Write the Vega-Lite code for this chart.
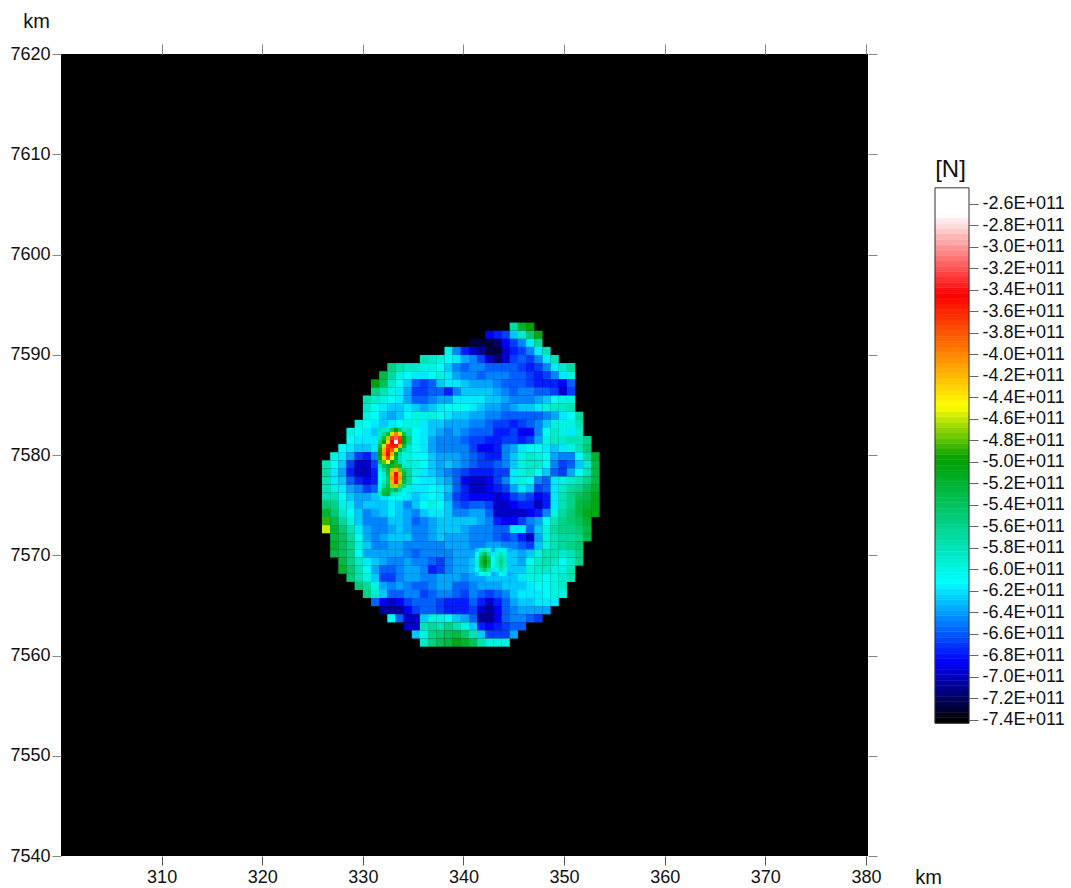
{"$schema":"https://vega.github.io/schema/vega-lite/v6.json","background":"white","padding":{"left":9,"top":11,"right":0,"bottom":0},"bounds":"flush","spacing":67,"config":{"font":"Liberation Sans","view":{"stroke":null}},
"datasets":{"cells":[
{"x":345.00,"y":7592.80,"v":-5.7},{"x":345.81,"y":7592.80,"v":-5.2},{"x":346.63,"y":7592.80,"v":-5.0},
{"x":342.57,"y":7591.99,"v":-6.9},{"x":343.38,"y":7591.99,"v":-6.8},{"x":344.19,"y":7591.99,"v":-6.7},{"x":345.00,"y":7591.99,"v":-6.3},{"x":345.81,"y":7591.99,"v":-5.9},{"x":346.63,"y":7591.99,"v":-5.5},{"x":347.44,"y":7591.99,"v":-5.1},
{"x":340.95,"y":7591.18,"v":-7.3},{"x":341.76,"y":7591.18,"v":-7.3},{"x":342.57,"y":7591.18,"v":-7.3},{"x":343.38,"y":7591.18,"v":-7.2},{"x":344.19,"y":7591.18,"v":-6.9},{"x":345.00,"y":7591.18,"v":-6.7},{"x":345.81,"y":7591.18,"v":-6.5},{"x":346.63,"y":7591.18,"v":-6.2},{"x":347.44,"y":7591.18,"v":-5.7},
{"x":338.52,"y":7590.38,"v":-6.0},{"x":339.33,"y":7590.38,"v":-6.5},{"x":340.14,"y":7590.38,"v":-6.8},{"x":340.95,"y":7590.38,"v":-7.0},{"x":341.76,"y":7590.38,"v":-7.1},{"x":342.57,"y":7590.38,"v":-7.3},{"x":343.38,"y":7590.38,"v":-7.3},{"x":344.19,"y":7590.38,"v":-7.0},{"x":345.00,"y":7590.38,"v":-6.8},{"x":345.81,"y":7590.38,"v":-6.7},{"x":346.63,"y":7590.38,"v":-6.5},{"x":347.44,"y":7590.38,"v":-6.2},{"x":348.25,"y":7590.38,"v":-5.8},
{"x":336.08,"y":7589.57,"v":-5.8},{"x":336.89,"y":7589.57,"v":-5.9},{"x":337.70,"y":7589.57,"v":-6.0},{"x":338.52,"y":7589.57,"v":-6.1},{"x":339.33,"y":7589.57,"v":-6.2},{"x":340.14,"y":7589.57,"v":-6.4},{"x":340.95,"y":7589.57,"v":-6.5},{"x":341.76,"y":7589.57,"v":-6.7},{"x":342.57,"y":7589.57,"v":-7.0},{"x":343.38,"y":7589.57,"v":-7.2},{"x":344.19,"y":7589.57,"v":-7.0},{"x":345.00,"y":7589.57,"v":-6.7},{"x":345.81,"y":7589.57,"v":-6.6},{"x":346.63,"y":7589.57,"v":-6.7},{"x":347.44,"y":7589.57,"v":-6.5},{"x":348.25,"y":7589.57,"v":-6.2},{"x":349.06,"y":7589.57,"v":-5.8},
{"x":332.84,"y":7588.76,"v":-5.6},{"x":333.65,"y":7588.76,"v":-5.8},{"x":334.46,"y":7588.76,"v":-5.9},{"x":335.27,"y":7588.76,"v":-5.9},{"x":336.08,"y":7588.76,"v":-6.0},{"x":336.89,"y":7588.76,"v":-6.0},{"x":337.70,"y":7588.76,"v":-6.1},{"x":338.52,"y":7588.76,"v":-6.3},{"x":339.33,"y":7588.76,"v":-6.5},{"x":340.14,"y":7588.76,"v":-6.6},{"x":340.95,"y":7588.76,"v":-6.5},{"x":341.76,"y":7588.76,"v":-6.5},{"x":342.57,"y":7588.76,"v":-6.6},{"x":343.38,"y":7588.76,"v":-6.6},{"x":344.19,"y":7588.76,"v":-6.6},{"x":345.00,"y":7588.76,"v":-6.6},{"x":345.81,"y":7588.76,"v":-6.7},{"x":346.63,"y":7588.76,"v":-6.8},{"x":347.44,"y":7588.76,"v":-6.7},{"x":348.25,"y":7588.76,"v":-6.5},{"x":349.06,"y":7588.76,"v":-6.2},{"x":349.87,"y":7588.76,"v":-5.9},{"x":350.68,"y":7588.76,"v":-5.7},
{"x":332.03,"y":7587.95,"v":-5.3},{"x":332.84,"y":7587.95,"v":-5.7},{"x":333.65,"y":7587.95,"v":-6.0},{"x":334.46,"y":7587.95,"v":-6.1},{"x":335.27,"y":7587.95,"v":-6.2},{"x":336.08,"y":7587.95,"v":-6.2},{"x":336.89,"y":7587.95,"v":-6.1},{"x":337.70,"y":7587.95,"v":-6.0},{"x":338.52,"y":7587.95,"v":-6.2},{"x":339.33,"y":7587.95,"v":-6.4},{"x":340.14,"y":7587.95,"v":-6.5},{"x":340.95,"y":7587.95,"v":-6.5},{"x":341.76,"y":7587.95,"v":-6.6},{"x":342.57,"y":7587.95,"v":-6.5},{"x":343.38,"y":7587.95,"v":-6.5},{"x":344.19,"y":7587.95,"v":-6.5},{"x":345.00,"y":7587.95,"v":-6.6},{"x":345.81,"y":7587.95,"v":-6.6},{"x":346.63,"y":7587.95,"v":-6.7},{"x":347.44,"y":7587.95,"v":-6.8},{"x":348.25,"y":7587.95,"v":-6.7},{"x":349.06,"y":7587.95,"v":-6.5},{"x":349.87,"y":7587.95,"v":-6.2},{"x":350.68,"y":7587.95,"v":-6.0},
{"x":331.22,"y":7587.14,"v":-5.0},{"x":332.03,"y":7587.14,"v":-5.4},{"x":332.84,"y":7587.14,"v":-5.9},{"x":333.65,"y":7587.14,"v":-6.1},{"x":334.46,"y":7587.14,"v":-6.3},{"x":335.27,"y":7587.14,"v":-6.6},{"x":336.08,"y":7587.14,"v":-6.7},{"x":336.89,"y":7587.14,"v":-6.6},{"x":337.70,"y":7587.14,"v":-6.3},{"x":338.52,"y":7587.14,"v":-6.2},{"x":339.33,"y":7587.14,"v":-6.2},{"x":340.14,"y":7587.14,"v":-6.3},{"x":340.95,"y":7587.14,"v":-6.4},{"x":341.76,"y":7587.14,"v":-6.4},{"x":342.57,"y":7587.14,"v":-6.4},{"x":343.38,"y":7587.14,"v":-6.5},{"x":344.19,"y":7587.14,"v":-6.6},{"x":345.00,"y":7587.14,"v":-6.6},{"x":345.81,"y":7587.14,"v":-6.6},{"x":346.63,"y":7587.14,"v":-6.7},{"x":347.44,"y":7587.14,"v":-6.8},{"x":348.25,"y":7587.14,"v":-6.8},{"x":349.06,"y":7587.14,"v":-6.8},{"x":349.87,"y":7587.14,"v":-6.9},{"x":350.68,"y":7587.14,"v":-6.6},
{"x":331.22,"y":7586.34,"v":-5.6},{"x":332.03,"y":7586.34,"v":-5.8},{"x":332.84,"y":7586.34,"v":-6.0},{"x":333.65,"y":7586.34,"v":-6.2},{"x":334.46,"y":7586.34,"v":-6.4},{"x":335.27,"y":7586.34,"v":-6.7},{"x":336.08,"y":7586.34,"v":-6.7},{"x":336.89,"y":7586.34,"v":-6.6},{"x":337.70,"y":7586.34,"v":-6.6},{"x":338.52,"y":7586.34,"v":-6.8},{"x":339.33,"y":7586.34,"v":-6.5},{"x":340.14,"y":7586.34,"v":-6.3},{"x":340.95,"y":7586.34,"v":-6.3},{"x":341.76,"y":7586.34,"v":-6.3},{"x":342.57,"y":7586.34,"v":-6.3},{"x":343.38,"y":7586.34,"v":-6.4},{"x":344.19,"y":7586.34,"v":-6.5},{"x":345.00,"y":7586.34,"v":-6.6},{"x":345.81,"y":7586.34,"v":-6.5},{"x":346.63,"y":7586.34,"v":-6.5},{"x":347.44,"y":7586.34,"v":-6.6},{"x":348.25,"y":7586.34,"v":-6.6},{"x":349.06,"y":7586.34,"v":-6.7},{"x":349.87,"y":7586.34,"v":-7.0},{"x":350.68,"y":7586.34,"v":-6.7},
{"x":330.41,"y":7585.53,"v":-5.8},{"x":331.22,"y":7585.53,"v":-5.9},{"x":332.03,"y":7585.53,"v":-6.0},{"x":332.84,"y":7585.53,"v":-6.1},{"x":333.65,"y":7585.53,"v":-6.2},{"x":334.46,"y":7585.53,"v":-6.4},{"x":335.27,"y":7585.53,"v":-6.6},{"x":336.08,"y":7585.53,"v":-6.6},{"x":336.89,"y":7585.53,"v":-6.5},{"x":337.70,"y":7585.53,"v":-6.4},{"x":338.52,"y":7585.53,"v":-6.4},{"x":339.33,"y":7585.53,"v":-6.2},{"x":340.14,"y":7585.53,"v":-6.2},{"x":340.95,"y":7585.53,"v":-6.2},{"x":341.76,"y":7585.53,"v":-6.2},{"x":342.57,"y":7585.53,"v":-6.3},{"x":343.38,"y":7585.53,"v":-6.3},{"x":344.19,"y":7585.53,"v":-6.4},{"x":345.00,"y":7585.53,"v":-6.5},{"x":345.81,"y":7585.53,"v":-6.5},{"x":346.63,"y":7585.53,"v":-6.5},{"x":347.44,"y":7585.53,"v":-6.4},{"x":348.25,"y":7585.53,"v":-6.3},{"x":349.06,"y":7585.53,"v":-6.1},{"x":349.87,"y":7585.53,"v":-6.0},{"x":350.68,"y":7585.53,"v":-6.0},
{"x":330.41,"y":7584.72,"v":-5.9},{"x":331.22,"y":7584.72,"v":-6.1},{"x":332.03,"y":7584.72,"v":-6.2},{"x":332.84,"y":7584.72,"v":-6.3},{"x":333.65,"y":7584.72,"v":-6.3},{"x":334.46,"y":7584.72,"v":-6.2},{"x":335.27,"y":7584.72,"v":-6.3},{"x":336.08,"y":7584.72,"v":-6.4},{"x":336.89,"y":7584.72,"v":-6.3},{"x":337.70,"y":7584.72,"v":-6.2},{"x":338.52,"y":7584.72,"v":-6.1},{"x":339.33,"y":7584.72,"v":-6.1},{"x":340.14,"y":7584.72,"v":-6.1},{"x":340.95,"y":7584.72,"v":-6.2},{"x":341.76,"y":7584.72,"v":-6.3},{"x":342.57,"y":7584.72,"v":-6.4},{"x":343.38,"y":7584.72,"v":-6.4},{"x":344.19,"y":7584.72,"v":-6.5},{"x":345.00,"y":7584.72,"v":-6.4},{"x":345.81,"y":7584.72,"v":-6.3},{"x":346.63,"y":7584.72,"v":-6.3},{"x":347.44,"y":7584.72,"v":-6.2},{"x":348.25,"y":7584.72,"v":-6.0},{"x":349.06,"y":7584.72,"v":-5.9},{"x":349.87,"y":7584.72,"v":-5.9},{"x":350.68,"y":7584.72,"v":-5.8},
{"x":330.41,"y":7583.91,"v":-6.0},{"x":331.22,"y":7583.91,"v":-6.1},{"x":332.03,"y":7583.91,"v":-6.3},{"x":332.84,"y":7583.91,"v":-6.4},{"x":333.65,"y":7583.91,"v":-6.3},{"x":334.46,"y":7583.91,"v":-6.1},{"x":335.27,"y":7583.91,"v":-6.0},{"x":336.08,"y":7583.91,"v":-6.0},{"x":336.89,"y":7583.91,"v":-6.0},{"x":337.70,"y":7583.91,"v":-6.1},{"x":338.52,"y":7583.91,"v":-6.2},{"x":339.33,"y":7583.91,"v":-6.3},{"x":340.14,"y":7583.91,"v":-6.3},{"x":340.95,"y":7583.91,"v":-6.4},{"x":341.76,"y":7583.91,"v":-6.4},{"x":342.57,"y":7583.91,"v":-6.5},{"x":343.38,"y":7583.91,"v":-6.5},{"x":344.19,"y":7583.91,"v":-6.6},{"x":345.00,"y":7583.91,"v":-6.6},{"x":345.81,"y":7583.91,"v":-6.6},{"x":346.63,"y":7583.91,"v":-6.6},{"x":347.44,"y":7583.91,"v":-6.6},{"x":348.25,"y":7583.91,"v":-6.5},{"x":349.06,"y":7583.91,"v":-6.4},{"x":349.87,"y":7583.91,"v":-6.2},{"x":350.68,"y":7583.91,"v":-6.1},{"x":351.49,"y":7583.91,"v":-5.7},
{"x":329.59,"y":7583.10,"v":-6.0},{"x":330.41,"y":7583.10,"v":-6.1},{"x":331.22,"y":7583.10,"v":-6.2},{"x":332.03,"y":7583.10,"v":-6.3},{"x":332.84,"y":7583.10,"v":-6.2},{"x":333.65,"y":7583.10,"v":-6.1},{"x":334.46,"y":7583.10,"v":-6.0},{"x":335.27,"y":7583.10,"v":-6.0},{"x":336.08,"y":7583.10,"v":-6.2},{"x":336.89,"y":7583.10,"v":-6.3},{"x":337.70,"y":7583.10,"v":-6.3},{"x":338.52,"y":7583.10,"v":-6.4},{"x":339.33,"y":7583.10,"v":-6.4},{"x":340.14,"y":7583.10,"v":-6.4},{"x":340.95,"y":7583.10,"v":-6.5},{"x":341.76,"y":7583.10,"v":-6.5},{"x":342.57,"y":7583.10,"v":-6.6},{"x":343.38,"y":7583.10,"v":-6.7},{"x":344.19,"y":7583.10,"v":-6.7},{"x":345.00,"y":7583.10,"v":-6.8},{"x":345.81,"y":7583.10,"v":-6.7},{"x":346.63,"y":7583.10,"v":-6.6},{"x":347.44,"y":7583.10,"v":-6.5},{"x":348.25,"y":7583.10,"v":-6.3},{"x":349.06,"y":7583.10,"v":-6.0},{"x":349.87,"y":7583.10,"v":-6.0},{"x":350.68,"y":7583.10,"v":-6.0},{"x":351.49,"y":7583.10,"v":-5.8},
{"x":328.78,"y":7582.30,"v":-6.0},{"x":329.59,"y":7582.30,"v":-6.1},{"x":330.41,"y":7582.30,"v":-6.2},{"x":331.22,"y":7582.30,"v":-6.3},{"x":332.03,"y":7582.30,"v":-6.1},{"x":332.84,"y":7582.30,"v":-5.9},{"x":333.65,"y":7582.30,"v":-5.6},{"x":334.46,"y":7582.30,"v":-5.8},{"x":335.27,"y":7582.30,"v":-6.1},{"x":336.08,"y":7582.30,"v":-6.2},{"x":336.89,"y":7582.30,"v":-6.3},{"x":337.70,"y":7582.30,"v":-6.4},{"x":338.52,"y":7582.30,"v":-6.5},{"x":339.33,"y":7582.30,"v":-6.4},{"x":340.14,"y":7582.30,"v":-6.5},{"x":340.95,"y":7582.30,"v":-6.6},{"x":341.76,"y":7582.30,"v":-6.6},{"x":342.57,"y":7582.30,"v":-6.6},{"x":343.38,"y":7582.30,"v":-6.8},{"x":344.19,"y":7582.30,"v":-6.8},{"x":345.00,"y":7582.30,"v":-6.7},{"x":345.81,"y":7582.30,"v":-6.9},{"x":346.63,"y":7582.30,"v":-6.9},{"x":347.44,"y":7582.30,"v":-6.5},{"x":348.25,"y":7582.30,"v":-6.1},{"x":349.06,"y":7582.30,"v":-5.9},{"x":349.87,"y":7582.30,"v":-6.0},{"x":350.68,"y":7582.30,"v":-6.2},{"x":351.49,"y":7582.30,"v":-5.9},
{"x":328.78,"y":7581.49,"v":-6.1},{"x":329.59,"y":7581.49,"v":-6.2},{"x":330.41,"y":7581.49,"v":-6.2},{"x":331.22,"y":7581.49,"v":-6.2},{"x":332.03,"y":7581.49,"v":-5.9},{"x":332.84,"y":7581.49,"v":-5.6},{"x":333.65,"y":7581.49,"v":-5.6},{"x":334.46,"y":7581.49,"v":-5.6},{"x":335.27,"y":7581.49,"v":-6.1},{"x":336.08,"y":7581.49,"v":-6.2},{"x":336.89,"y":7581.49,"v":-6.4},{"x":337.70,"y":7581.49,"v":-6.5},{"x":338.52,"y":7581.49,"v":-6.5},{"x":339.33,"y":7581.49,"v":-6.5},{"x":340.14,"y":7581.49,"v":-6.6},{"x":340.95,"y":7581.49,"v":-6.7},{"x":341.76,"y":7581.49,"v":-6.7},{"x":342.57,"y":7581.49,"v":-6.8},{"x":343.38,"y":7581.49,"v":-6.8},{"x":344.19,"y":7581.49,"v":-6.7},{"x":345.00,"y":7581.49,"v":-6.7},{"x":345.81,"y":7581.49,"v":-6.8},{"x":346.63,"y":7581.49,"v":-6.7},{"x":347.44,"y":7581.49,"v":-6.4},{"x":348.25,"y":7581.49,"v":-6.0},{"x":349.06,"y":7581.49,"v":-5.9},{"x":349.87,"y":7581.49,"v":-5.9},{"x":350.68,"y":7581.49,"v":-5.8},{"x":351.49,"y":7581.49,"v":-5.8},{"x":352.30,"y":7581.49,"v":-5.6},
{"x":327.97,"y":7580.68,"v":-6.1},{"x":328.78,"y":7580.68,"v":-6.2},{"x":329.59,"y":7580.68,"v":-6.3},{"x":330.41,"y":7580.68,"v":-6.3},{"x":331.22,"y":7580.68,"v":-6.2},{"x":332.03,"y":7580.68,"v":-5.6},{"x":332.84,"y":7580.68,"v":-5.6},{"x":333.65,"y":7580.68,"v":-5.6},{"x":334.46,"y":7580.68,"v":-5.9},{"x":335.27,"y":7580.68,"v":-6.1},{"x":336.08,"y":7580.68,"v":-6.2},{"x":336.89,"y":7580.68,"v":-6.4},{"x":337.70,"y":7580.68,"v":-6.5},{"x":338.52,"y":7580.68,"v":-6.5},{"x":339.33,"y":7580.68,"v":-6.5},{"x":340.14,"y":7580.68,"v":-6.5},{"x":340.95,"y":7580.68,"v":-6.7},{"x":341.76,"y":7580.68,"v":-6.9},{"x":342.57,"y":7580.68,"v":-6.9},{"x":343.38,"y":7580.68,"v":-6.8},{"x":344.19,"y":7580.68,"v":-6.5},{"x":345.00,"y":7580.68,"v":-6.4},{"x":345.81,"y":7580.68,"v":-6.2},{"x":346.63,"y":7580.68,"v":-6.1},{"x":347.44,"y":7580.68,"v":-6.1},{"x":348.25,"y":7580.68,"v":-6.2},{"x":349.06,"y":7580.68,"v":-6.3},{"x":349.87,"y":7580.68,"v":-6.2},{"x":350.68,"y":7580.68,"v":-6.0},{"x":351.49,"y":7580.68,"v":-5.8},{"x":352.30,"y":7580.68,"v":-5.5},
{"x":327.16,"y":7579.87,"v":-6.0},{"x":327.97,"y":7579.87,"v":-6.2},{"x":328.78,"y":7579.87,"v":-6.4},{"x":329.59,"y":7579.87,"v":-6.7},{"x":330.41,"y":7579.87,"v":-6.8},{"x":331.22,"y":7579.87,"v":-6.5},{"x":332.03,"y":7579.87,"v":-5.6},{"x":332.84,"y":7579.87,"v":-5.4},{"x":333.65,"y":7579.87,"v":-5.7},{"x":334.46,"y":7579.87,"v":-6.0},{"x":335.27,"y":7579.87,"v":-6.1},{"x":336.08,"y":7579.87,"v":-6.1},{"x":336.89,"y":7579.87,"v":-6.3},{"x":337.70,"y":7579.87,"v":-6.4},{"x":338.52,"y":7579.87,"v":-6.4},{"x":339.33,"y":7579.87,"v":-6.4},{"x":340.14,"y":7579.87,"v":-6.5},{"x":340.95,"y":7579.87,"v":-6.6},{"x":341.76,"y":7579.87,"v":-6.7},{"x":342.57,"y":7579.87,"v":-6.8},{"x":343.38,"y":7579.87,"v":-6.8},{"x":344.19,"y":7579.87,"v":-6.5},{"x":345.00,"y":7579.87,"v":-6.3},{"x":345.81,"y":7579.87,"v":-6.0},{"x":346.63,"y":7579.87,"v":-5.9},{"x":347.44,"y":7579.87,"v":-6.0},{"x":348.25,"y":7579.87,"v":-6.1},{"x":349.06,"y":7579.87,"v":-6.4},{"x":349.87,"y":7579.87,"v":-6.5},{"x":350.68,"y":7579.87,"v":-6.5},{"x":351.49,"y":7579.87,"v":-6.1},{"x":352.30,"y":7579.87,"v":-5.7},{"x":353.11,"y":7579.87,"v":-5.2},
{"x":326.35,"y":7579.06,"v":-5.8},{"x":327.16,"y":7579.06,"v":-6.1},{"x":327.97,"y":7579.06,"v":-6.3},{"x":328.78,"y":7579.06,"v":-6.7},{"x":329.59,"y":7579.06,"v":-7.0},{"x":330.41,"y":7579.06,"v":-7.0},{"x":331.22,"y":7579.06,"v":-6.7},{"x":332.03,"y":7579.06,"v":-5.9},{"x":332.84,"y":7579.06,"v":-5.6},{"x":333.65,"y":7579.06,"v":-5.6},{"x":334.46,"y":7579.06,"v":-5.9},{"x":335.27,"y":7579.06,"v":-6.0},{"x":336.08,"y":7579.06,"v":-6.1},{"x":336.89,"y":7579.06,"v":-6.3},{"x":337.70,"y":7579.06,"v":-6.4},{"x":338.52,"y":7579.06,"v":-6.3},{"x":339.33,"y":7579.06,"v":-6.4},{"x":340.14,"y":7579.06,"v":-6.5},{"x":340.95,"y":7579.06,"v":-6.6},{"x":341.76,"y":7579.06,"v":-6.7},{"x":342.57,"y":7579.06,"v":-6.7},{"x":343.38,"y":7579.06,"v":-6.6},{"x":344.19,"y":7579.06,"v":-6.5},{"x":345.00,"y":7579.06,"v":-6.3},{"x":345.81,"y":7579.06,"v":-6.0},{"x":346.63,"y":7579.06,"v":-5.9},{"x":347.44,"y":7579.06,"v":-5.9},{"x":348.25,"y":7579.06,"v":-6.1},{"x":349.06,"y":7579.06,"v":-6.5},{"x":349.87,"y":7579.06,"v":-6.7},{"x":350.68,"y":7579.06,"v":-6.6},{"x":351.49,"y":7579.06,"v":-6.3},{"x":352.30,"y":7579.06,"v":-5.9},{"x":353.11,"y":7579.06,"v":-5.3},
{"x":326.35,"y":7578.26,"v":-5.7},{"x":327.16,"y":7578.26,"v":-6.2},{"x":327.97,"y":7578.26,"v":-6.4},{"x":328.78,"y":7578.26,"v":-6.8},{"x":329.59,"y":7578.26,"v":-7.0},{"x":330.41,"y":7578.26,"v":-7.0},{"x":331.22,"y":7578.26,"v":-6.8},{"x":332.03,"y":7578.26,"v":-6.2},{"x":332.84,"y":7578.26,"v":-6.0},{"x":333.65,"y":7578.26,"v":-5.6},{"x":334.46,"y":7578.26,"v":-5.7},{"x":335.27,"y":7578.26,"v":-6.0},{"x":336.08,"y":7578.26,"v":-6.2},{"x":336.89,"y":7578.26,"v":-6.3},{"x":337.70,"y":7578.26,"v":-6.4},{"x":338.52,"y":7578.26,"v":-6.5},{"x":339.33,"y":7578.26,"v":-6.6},{"x":340.14,"y":7578.26,"v":-6.7},{"x":340.95,"y":7578.26,"v":-6.8},{"x":341.76,"y":7578.26,"v":-6.8},{"x":342.57,"y":7578.26,"v":-6.8},{"x":343.38,"y":7578.26,"v":-6.7},{"x":344.19,"y":7578.26,"v":-6.7},{"x":345.00,"y":7578.26,"v":-6.2},{"x":345.81,"y":7578.26,"v":-6.0},{"x":346.63,"y":7578.26,"v":-5.9},{"x":347.44,"y":7578.26,"v":-6.1},{"x":348.25,"y":7578.26,"v":-6.3},{"x":349.06,"y":7578.26,"v":-6.6},{"x":349.87,"y":7578.26,"v":-6.7},{"x":350.68,"y":7578.26,"v":-6.4},{"x":351.49,"y":7578.26,"v":-6.1},{"x":352.30,"y":7578.26,"v":-5.8},{"x":353.11,"y":7578.26,"v":-5.3},
{"x":326.35,"y":7577.45,"v":-5.8},{"x":327.16,"y":7577.45,"v":-6.2},{"x":327.97,"y":7577.45,"v":-6.3},{"x":328.78,"y":7577.45,"v":-6.6},{"x":329.59,"y":7577.45,"v":-6.8},{"x":330.41,"y":7577.45,"v":-6.9},{"x":331.22,"y":7577.45,"v":-6.8},{"x":332.03,"y":7577.45,"v":-6.2},{"x":332.84,"y":7577.45,"v":-5.5},{"x":333.65,"y":7577.45,"v":-5.6},{"x":334.46,"y":7577.45,"v":-5.7},{"x":335.27,"y":7577.45,"v":-6.1},{"x":336.08,"y":7577.45,"v":-6.2},{"x":336.89,"y":7577.45,"v":-6.2},{"x":337.70,"y":7577.45,"v":-6.3},{"x":338.52,"y":7577.45,"v":-6.4},{"x":339.33,"y":7577.45,"v":-6.6},{"x":340.14,"y":7577.45,"v":-6.9},{"x":340.95,"y":7577.45,"v":-7.0},{"x":341.76,"y":7577.45,"v":-7.0},{"x":342.57,"y":7577.45,"v":-6.9},{"x":343.38,"y":7577.45,"v":-6.7},{"x":344.19,"y":7577.45,"v":-6.5},{"x":345.00,"y":7577.45,"v":-6.2},{"x":345.81,"y":7577.45,"v":-6.0},{"x":346.63,"y":7577.45,"v":-6.1},{"x":347.44,"y":7577.45,"v":-6.5},{"x":348.25,"y":7577.45,"v":-6.6},{"x":349.06,"y":7577.45,"v":-6.2},{"x":349.87,"y":7577.45,"v":-6.0},{"x":350.68,"y":7577.45,"v":-5.9},{"x":351.49,"y":7577.45,"v":-5.8},{"x":352.30,"y":7577.45,"v":-5.6},{"x":353.11,"y":7577.45,"v":-5.3},
{"x":326.35,"y":7576.64,"v":-5.8},{"x":327.16,"y":7576.64,"v":-6.0},{"x":327.97,"y":7576.64,"v":-6.2},{"x":328.78,"y":7576.64,"v":-6.4},{"x":329.59,"y":7576.64,"v":-6.5},{"x":330.41,"y":7576.64,"v":-6.7},{"x":331.22,"y":7576.64,"v":-6.6},{"x":332.03,"y":7576.64,"v":-6.2},{"x":332.84,"y":7576.64,"v":-5.7},{"x":333.65,"y":7576.64,"v":-5.6},{"x":334.46,"y":7576.64,"v":-6.0},{"x":335.27,"y":7576.64,"v":-6.2},{"x":336.08,"y":7576.64,"v":-6.2},{"x":336.89,"y":7576.64,"v":-6.1},{"x":337.70,"y":7576.64,"v":-6.2},{"x":338.52,"y":7576.64,"v":-6.3},{"x":339.33,"y":7576.64,"v":-6.6},{"x":340.14,"y":7576.64,"v":-6.8},{"x":340.95,"y":7576.64,"v":-7.0},{"x":341.76,"y":7576.64,"v":-7.0},{"x":342.57,"y":7576.64,"v":-6.9},{"x":343.38,"y":7576.64,"v":-6.8},{"x":344.19,"y":7576.64,"v":-6.7},{"x":345.00,"y":7576.64,"v":-6.4},{"x":345.81,"y":7576.64,"v":-6.2},{"x":346.63,"y":7576.64,"v":-6.3},{"x":347.44,"y":7576.64,"v":-6.7},{"x":348.25,"y":7576.64,"v":-6.6},{"x":349.06,"y":7576.64,"v":-6.2},{"x":349.87,"y":7576.64,"v":-5.9},{"x":350.68,"y":7576.64,"v":-5.7},{"x":351.49,"y":7576.64,"v":-5.6},{"x":352.30,"y":7576.64,"v":-5.4},{"x":353.11,"y":7576.64,"v":-5.2},
{"x":326.35,"y":7575.83,"v":-5.8},{"x":327.16,"y":7575.83,"v":-5.8},{"x":327.97,"y":7575.83,"v":-6.1},{"x":328.78,"y":7575.83,"v":-6.3},{"x":329.59,"y":7575.83,"v":-6.4},{"x":330.41,"y":7575.83,"v":-6.4},{"x":331.22,"y":7575.83,"v":-6.3},{"x":332.03,"y":7575.83,"v":-6.2},{"x":332.84,"y":7575.83,"v":-6.1},{"x":333.65,"y":7575.83,"v":-6.1},{"x":334.46,"y":7575.83,"v":-6.2},{"x":335.27,"y":7575.83,"v":-6.3},{"x":336.08,"y":7575.83,"v":-6.2},{"x":336.89,"y":7575.83,"v":-6.1},{"x":337.70,"y":7575.83,"v":-6.2},{"x":338.52,"y":7575.83,"v":-6.4},{"x":339.33,"y":7575.83,"v":-6.7},{"x":340.14,"y":7575.83,"v":-6.8},{"x":340.95,"y":7575.83,"v":-6.9},{"x":341.76,"y":7575.83,"v":-6.9},{"x":342.57,"y":7575.83,"v":-6.9},{"x":343.38,"y":7575.83,"v":-7.0},{"x":344.19,"y":7575.83,"v":-6.9},{"x":345.00,"y":7575.83,"v":-6.7},{"x":345.81,"y":7575.83,"v":-6.6},{"x":346.63,"y":7575.83,"v":-6.7},{"x":347.44,"y":7575.83,"v":-6.9},{"x":348.25,"y":7575.83,"v":-6.8},{"x":349.06,"y":7575.83,"v":-6.2},{"x":349.87,"y":7575.83,"v":-5.8},{"x":350.68,"y":7575.83,"v":-5.6},{"x":351.49,"y":7575.83,"v":-5.4},{"x":352.30,"y":7575.83,"v":-5.3},{"x":353.11,"y":7575.83,"v":-5.1},
{"x":326.35,"y":7575.02,"v":-5.5},{"x":327.16,"y":7575.02,"v":-5.6},{"x":327.97,"y":7575.02,"v":-6.0},{"x":328.78,"y":7575.02,"v":-6.2},{"x":329.59,"y":7575.02,"v":-6.4},{"x":330.41,"y":7575.02,"v":-6.3},{"x":331.22,"y":7575.02,"v":-6.3},{"x":332.03,"y":7575.02,"v":-6.3},{"x":332.84,"y":7575.02,"v":-6.2},{"x":333.65,"y":7575.02,"v":-6.3},{"x":334.46,"y":7575.02,"v":-6.5},{"x":335.27,"y":7575.02,"v":-6.3},{"x":336.08,"y":7575.02,"v":-6.1},{"x":336.89,"y":7575.02,"v":-6.0},{"x":337.70,"y":7575.02,"v":-6.1},{"x":338.52,"y":7575.02,"v":-6.3},{"x":339.33,"y":7575.02,"v":-6.6},{"x":340.14,"y":7575.02,"v":-6.7},{"x":340.95,"y":7575.02,"v":-6.6},{"x":341.76,"y":7575.02,"v":-6.6},{"x":342.57,"y":7575.02,"v":-6.7},{"x":343.38,"y":7575.02,"v":-7.0},{"x":344.19,"y":7575.02,"v":-7.0},{"x":345.00,"y":7575.02,"v":-6.9},{"x":345.81,"y":7575.02,"v":-6.8},{"x":346.63,"y":7575.02,"v":-6.8},{"x":347.44,"y":7575.02,"v":-7.0},{"x":348.25,"y":7575.02,"v":-6.8},{"x":349.06,"y":7575.02,"v":-6.2},{"x":349.87,"y":7575.02,"v":-5.8},{"x":350.68,"y":7575.02,"v":-5.6},{"x":351.49,"y":7575.02,"v":-5.3},{"x":352.30,"y":7575.02,"v":-5.2},{"x":353.11,"y":7575.02,"v":-5.1},
{"x":326.35,"y":7574.22,"v":-5.2},{"x":327.16,"y":7574.22,"v":-5.5},{"x":327.97,"y":7574.22,"v":-5.9},{"x":328.78,"y":7574.22,"v":-6.1},{"x":329.59,"y":7574.22,"v":-6.3},{"x":330.41,"y":7574.22,"v":-6.5},{"x":331.22,"y":7574.22,"v":-6.4},{"x":332.03,"y":7574.22,"v":-6.3},{"x":332.84,"y":7574.22,"v":-6.2},{"x":333.65,"y":7574.22,"v":-6.3},{"x":334.46,"y":7574.22,"v":-6.4},{"x":335.27,"y":7574.22,"v":-6.5},{"x":336.08,"y":7574.22,"v":-6.3},{"x":336.89,"y":7574.22,"v":-6.2},{"x":337.70,"y":7574.22,"v":-6.2},{"x":338.52,"y":7574.22,"v":-6.3},{"x":339.33,"y":7574.22,"v":-6.5},{"x":340.14,"y":7574.22,"v":-6.5},{"x":340.95,"y":7574.22,"v":-6.4},{"x":341.76,"y":7574.22,"v":-6.4},{"x":342.57,"y":7574.22,"v":-6.6},{"x":343.38,"y":7574.22,"v":-7.0},{"x":344.19,"y":7574.22,"v":-7.0},{"x":345.00,"y":7574.22,"v":-7.0},{"x":345.81,"y":7574.22,"v":-7.0},{"x":346.63,"y":7574.22,"v":-6.9},{"x":347.44,"y":7574.22,"v":-6.8},{"x":348.25,"y":7574.22,"v":-6.5},{"x":349.06,"y":7574.22,"v":-6.0},{"x":349.87,"y":7574.22,"v":-5.7},{"x":350.68,"y":7574.22,"v":-5.5},{"x":351.49,"y":7574.22,"v":-5.3},{"x":352.30,"y":7574.22,"v":-5.1},{"x":353.11,"y":7574.22,"v":-5.1},
{"x":326.35,"y":7573.41,"v":-4.9},{"x":327.16,"y":7573.41,"v":-5.3},{"x":327.97,"y":7573.41,"v":-5.7},{"x":328.78,"y":7573.41,"v":-6.0},{"x":329.59,"y":7573.41,"v":-6.3},{"x":330.41,"y":7573.41,"v":-6.5},{"x":331.22,"y":7573.41,"v":-6.5},{"x":332.03,"y":7573.41,"v":-6.5},{"x":332.84,"y":7573.41,"v":-6.3},{"x":333.65,"y":7573.41,"v":-6.3},{"x":334.46,"y":7573.41,"v":-6.4},{"x":335.27,"y":7573.41,"v":-6.6},{"x":336.08,"y":7573.41,"v":-6.5},{"x":336.89,"y":7573.41,"v":-6.4},{"x":337.70,"y":7573.41,"v":-6.3},{"x":338.52,"y":7573.41,"v":-6.3},{"x":339.33,"y":7573.41,"v":-6.3},{"x":340.14,"y":7573.41,"v":-6.3},{"x":340.95,"y":7573.41,"v":-6.3},{"x":341.76,"y":7573.41,"v":-6.4},{"x":342.57,"y":7573.41,"v":-6.5},{"x":343.38,"y":7573.41,"v":-6.8},{"x":344.19,"y":7573.41,"v":-6.9},{"x":345.00,"y":7573.41,"v":-6.9},{"x":345.81,"y":7573.41,"v":-6.7},{"x":346.63,"y":7573.41,"v":-6.5},{"x":347.44,"y":7573.41,"v":-6.4},{"x":348.25,"y":7573.41,"v":-6.1},{"x":349.06,"y":7573.41,"v":-5.8},{"x":349.87,"y":7573.41,"v":-5.6},{"x":350.68,"y":7573.41,"v":-5.5},{"x":351.49,"y":7573.41,"v":-5.4},{"x":352.30,"y":7573.41,"v":-5.2},
{"x":326.35,"y":7572.60,"v":-4.6},{"x":327.16,"y":7572.60,"v":-5.2},{"x":327.97,"y":7572.60,"v":-5.5},{"x":328.78,"y":7572.60,"v":-5.8},{"x":329.59,"y":7572.60,"v":-6.2},{"x":330.41,"y":7572.60,"v":-6.4},{"x":331.22,"y":7572.60,"v":-6.5},{"x":332.03,"y":7572.60,"v":-6.5},{"x":332.84,"y":7572.60,"v":-6.4},{"x":333.65,"y":7572.60,"v":-6.3},{"x":334.46,"y":7572.60,"v":-6.4},{"x":335.27,"y":7572.60,"v":-6.5},{"x":336.08,"y":7572.60,"v":-6.5},{"x":336.89,"y":7572.60,"v":-6.4},{"x":337.70,"y":7572.60,"v":-6.3},{"x":338.52,"y":7572.60,"v":-6.3},{"x":339.33,"y":7572.60,"v":-6.3},{"x":340.14,"y":7572.60,"v":-6.4},{"x":340.95,"y":7572.60,"v":-6.5},{"x":341.76,"y":7572.60,"v":-6.5},{"x":342.57,"y":7572.60,"v":-6.5},{"x":343.38,"y":7572.60,"v":-6.6},{"x":344.19,"y":7572.60,"v":-6.6},{"x":345.00,"y":7572.60,"v":-6.2},{"x":345.81,"y":7572.60,"v":-6.2},{"x":346.63,"y":7572.60,"v":-6.6},{"x":347.44,"y":7572.60,"v":-6.3},{"x":348.25,"y":7572.60,"v":-6.0},{"x":349.06,"y":7572.60,"v":-5.7},{"x":349.87,"y":7572.60,"v":-5.6},{"x":350.68,"y":7572.60,"v":-5.6},{"x":351.49,"y":7572.60,"v":-5.5},{"x":352.30,"y":7572.60,"v":-5.3},
{"x":327.16,"y":7571.79,"v":-5.3},{"x":327.97,"y":7571.79,"v":-5.4},{"x":328.78,"y":7571.79,"v":-5.7},{"x":329.59,"y":7571.79,"v":-6.1},{"x":330.41,"y":7571.79,"v":-6.4},{"x":331.22,"y":7571.79,"v":-6.5},{"x":332.03,"y":7571.79,"v":-6.4},{"x":332.84,"y":7571.79,"v":-6.3},{"x":333.65,"y":7571.79,"v":-6.3},{"x":334.46,"y":7571.79,"v":-6.3},{"x":335.27,"y":7571.79,"v":-6.5},{"x":336.08,"y":7571.79,"v":-6.5},{"x":336.89,"y":7571.79,"v":-6.4},{"x":337.70,"y":7571.79,"v":-6.3},{"x":338.52,"y":7571.79,"v":-6.4},{"x":339.33,"y":7571.79,"v":-6.4},{"x":340.14,"y":7571.79,"v":-6.4},{"x":340.95,"y":7571.79,"v":-6.5},{"x":341.76,"y":7571.79,"v":-6.5},{"x":342.57,"y":7571.79,"v":-6.5},{"x":343.38,"y":7571.79,"v":-6.6},{"x":344.19,"y":7571.79,"v":-6.7},{"x":345.00,"y":7571.79,"v":-6.6},{"x":345.81,"y":7571.79,"v":-6.8},{"x":346.63,"y":7571.79,"v":-7.0},{"x":347.44,"y":7571.79,"v":-6.4},{"x":348.25,"y":7571.79,"v":-6.0},{"x":349.06,"y":7571.79,"v":-5.8},{"x":349.87,"y":7571.79,"v":-5.7},{"x":350.68,"y":7571.79,"v":-5.7},{"x":351.49,"y":7571.79,"v":-5.6},{"x":352.30,"y":7571.79,"v":-5.3},
{"x":327.16,"y":7570.98,"v":-5.2},{"x":327.97,"y":7570.98,"v":-5.4},{"x":328.78,"y":7570.98,"v":-5.6},{"x":329.59,"y":7570.98,"v":-6.0},{"x":330.41,"y":7570.98,"v":-6.3},{"x":331.22,"y":7570.98,"v":-6.5},{"x":332.03,"y":7570.98,"v":-6.5},{"x":332.84,"y":7570.98,"v":-6.4},{"x":333.65,"y":7570.98,"v":-6.4},{"x":334.46,"y":7570.98,"v":-6.5},{"x":335.27,"y":7570.98,"v":-6.5},{"x":336.08,"y":7570.98,"v":-6.5},{"x":336.89,"y":7570.98,"v":-6.5},{"x":337.70,"y":7570.98,"v":-6.5},{"x":338.52,"y":7570.98,"v":-6.4},{"x":339.33,"y":7570.98,"v":-6.4},{"x":340.14,"y":7570.98,"v":-6.4},{"x":340.95,"y":7570.98,"v":-6.5},{"x":341.76,"y":7570.98,"v":-6.5},{"x":342.57,"y":7570.98,"v":-6.4},{"x":343.38,"y":7570.98,"v":-6.4},{"x":344.19,"y":7570.98,"v":-6.5},{"x":345.00,"y":7570.98,"v":-6.5},{"x":345.81,"y":7570.98,"v":-6.6},{"x":346.63,"y":7570.98,"v":-6.7},{"x":347.44,"y":7570.98,"v":-6.3},{"x":348.25,"y":7570.98,"v":-6.0},{"x":349.06,"y":7570.98,"v":-5.8},{"x":349.87,"y":7570.98,"v":-5.7},{"x":350.68,"y":7570.98,"v":-5.6},{"x":351.49,"y":7570.98,"v":-5.5},
{"x":327.16,"y":7570.18,"v":-5.3},{"x":327.97,"y":7570.18,"v":-5.4},{"x":328.78,"y":7570.18,"v":-5.6},{"x":329.59,"y":7570.18,"v":-6.1},{"x":330.41,"y":7570.18,"v":-6.4},{"x":331.22,"y":7570.18,"v":-6.4},{"x":332.03,"y":7570.18,"v":-6.4},{"x":332.84,"y":7570.18,"v":-6.4},{"x":333.65,"y":7570.18,"v":-6.4},{"x":334.46,"y":7570.18,"v":-6.5},{"x":335.27,"y":7570.18,"v":-6.6},{"x":336.08,"y":7570.18,"v":-6.5},{"x":336.89,"y":7570.18,"v":-6.5},{"x":337.70,"y":7570.18,"v":-6.5},{"x":338.52,"y":7570.18,"v":-6.5},{"x":339.33,"y":7570.18,"v":-6.4},{"x":340.14,"y":7570.18,"v":-6.4},{"x":340.95,"y":7570.18,"v":-6.4},{"x":341.76,"y":7570.18,"v":-6.4},{"x":342.57,"y":7570.18,"v":-6.3},{"x":343.38,"y":7570.18,"v":-6.3},{"x":344.19,"y":7570.18,"v":-6.3},{"x":345.00,"y":7570.18,"v":-6.3},{"x":345.81,"y":7570.18,"v":-6.4},{"x":346.63,"y":7570.18,"v":-6.3},{"x":347.44,"y":7570.18,"v":-6.0},{"x":348.25,"y":7570.18,"v":-5.8},{"x":349.06,"y":7570.18,"v":-5.8},{"x":349.87,"y":7570.18,"v":-5.9},{"x":350.68,"y":7570.18,"v":-5.8},{"x":351.49,"y":7570.18,"v":-5.6},
{"x":327.97,"y":7569.37,"v":-5.3},{"x":328.78,"y":7569.37,"v":-5.6},{"x":329.59,"y":7569.37,"v":-5.9},{"x":330.41,"y":7569.37,"v":-6.2},{"x":331.22,"y":7569.37,"v":-6.3},{"x":332.03,"y":7569.37,"v":-6.4},{"x":332.84,"y":7569.37,"v":-6.5},{"x":333.65,"y":7569.37,"v":-6.5},{"x":334.46,"y":7569.37,"v":-6.4},{"x":335.27,"y":7569.37,"v":-6.5},{"x":336.08,"y":7569.37,"v":-6.5},{"x":336.89,"y":7569.37,"v":-6.6},{"x":337.70,"y":7569.37,"v":-6.7},{"x":338.52,"y":7569.37,"v":-6.5},{"x":339.33,"y":7569.37,"v":-6.4},{"x":340.14,"y":7569.37,"v":-6.4},{"x":340.95,"y":7569.37,"v":-6.3},{"x":341.76,"y":7569.37,"v":-6.2},{"x":342.57,"y":7569.37,"v":-6.2},{"x":343.38,"y":7569.37,"v":-6.2},{"x":344.19,"y":7569.37,"v":-6.2},{"x":345.00,"y":7569.37,"v":-6.3},{"x":345.81,"y":7569.37,"v":-6.4},{"x":346.63,"y":7569.37,"v":-6.1},{"x":347.44,"y":7569.37,"v":-5.9},{"x":348.25,"y":7569.37,"v":-5.8},{"x":349.06,"y":7569.37,"v":-5.9},{"x":349.87,"y":7569.37,"v":-6.1},{"x":350.68,"y":7569.37,"v":-5.9},{"x":351.49,"y":7569.37,"v":-5.6},
{"x":327.97,"y":7568.56,"v":-5.2},{"x":328.78,"y":7568.56,"v":-5.5},{"x":329.59,"y":7568.56,"v":-5.8},{"x":330.41,"y":7568.56,"v":-6.1},{"x":331.22,"y":7568.56,"v":-6.4},{"x":332.03,"y":7568.56,"v":-6.6},{"x":332.84,"y":7568.56,"v":-6.6},{"x":333.65,"y":7568.56,"v":-6.5},{"x":334.46,"y":7568.56,"v":-6.4},{"x":335.27,"y":7568.56,"v":-6.4},{"x":336.08,"y":7568.56,"v":-6.5},{"x":336.89,"y":7568.56,"v":-6.8},{"x":337.70,"y":7568.56,"v":-6.7},{"x":338.52,"y":7568.56,"v":-6.5},{"x":339.33,"y":7568.56,"v":-6.4},{"x":340.14,"y":7568.56,"v":-6.4},{"x":340.95,"y":7568.56,"v":-6.3},{"x":341.76,"y":7568.56,"v":-6.2},{"x":342.57,"y":7568.56,"v":-6.2},{"x":343.38,"y":7568.56,"v":-6.2},{"x":344.19,"y":7568.56,"v":-6.2},{"x":345.00,"y":7568.56,"v":-6.3},{"x":345.81,"y":7568.56,"v":-6.3},{"x":346.63,"y":7568.56,"v":-6.0},{"x":347.44,"y":7568.56,"v":-5.9},{"x":348.25,"y":7568.56,"v":-5.9},{"x":349.06,"y":7568.56,"v":-6.0},{"x":349.87,"y":7568.56,"v":-6.0},{"x":350.68,"y":7568.56,"v":-5.8},
{"x":328.78,"y":7567.75,"v":-5.5},{"x":329.59,"y":7567.75,"v":-5.8},{"x":330.41,"y":7567.75,"v":-6.0},{"x":331.22,"y":7567.75,"v":-6.3},{"x":332.03,"y":7567.75,"v":-6.7},{"x":332.84,"y":7567.75,"v":-6.7},{"x":333.65,"y":7567.75,"v":-6.5},{"x":334.46,"y":7567.75,"v":-6.4},{"x":335.27,"y":7567.75,"v":-6.4},{"x":336.08,"y":7567.75,"v":-6.5},{"x":336.89,"y":7567.75,"v":-6.5},{"x":337.70,"y":7567.75,"v":-6.4},{"x":338.52,"y":7567.75,"v":-6.4},{"x":339.33,"y":7567.75,"v":-6.4},{"x":340.14,"y":7567.75,"v":-6.5},{"x":340.95,"y":7567.75,"v":-6.4},{"x":341.76,"y":7567.75,"v":-6.4},{"x":342.57,"y":7567.75,"v":-6.3},{"x":343.38,"y":7567.75,"v":-6.3},{"x":344.19,"y":7567.75,"v":-6.3},{"x":345.00,"y":7567.75,"v":-6.3},{"x":345.81,"y":7567.75,"v":-6.2},{"x":346.63,"y":7567.75,"v":-6.0},{"x":347.44,"y":7567.75,"v":-6.0},{"x":348.25,"y":7567.75,"v":-6.1},{"x":349.06,"y":7567.75,"v":-6.0},{"x":349.87,"y":7567.75,"v":-5.9},{"x":350.68,"y":7567.75,"v":-5.8},
{"x":329.59,"y":7566.94,"v":-5.5},{"x":330.41,"y":7566.94,"v":-5.7},{"x":331.22,"y":7566.94,"v":-6.0},{"x":332.03,"y":7566.94,"v":-6.4},{"x":332.84,"y":7566.94,"v":-6.5},{"x":333.65,"y":7566.94,"v":-6.4},{"x":334.46,"y":7566.94,"v":-6.5},{"x":335.27,"y":7566.94,"v":-6.6},{"x":336.08,"y":7566.94,"v":-6.6},{"x":336.89,"y":7566.94,"v":-6.5},{"x":337.70,"y":7566.94,"v":-6.4},{"x":338.52,"y":7566.94,"v":-6.4},{"x":339.33,"y":7566.94,"v":-6.6},{"x":340.14,"y":7566.94,"v":-6.6},{"x":340.95,"y":7566.94,"v":-6.5},{"x":341.76,"y":7566.94,"v":-6.4},{"x":342.57,"y":7566.94,"v":-6.4},{"x":343.38,"y":7566.94,"v":-6.4},{"x":344.19,"y":7566.94,"v":-6.3},{"x":345.00,"y":7566.94,"v":-6.3},{"x":345.81,"y":7566.94,"v":-6.3},{"x":346.63,"y":7566.94,"v":-6.2},{"x":347.44,"y":7566.94,"v":-6.1},{"x":348.25,"y":7566.94,"v":-6.1},{"x":349.06,"y":7566.94,"v":-6.0},{"x":349.87,"y":7566.94,"v":-5.9},
{"x":330.41,"y":7566.14,"v":-5.6},{"x":331.22,"y":7566.14,"v":-5.9},{"x":332.03,"y":7566.14,"v":-6.3},{"x":332.84,"y":7566.14,"v":-6.6},{"x":333.65,"y":7566.14,"v":-6.6},{"x":334.46,"y":7566.14,"v":-6.5},{"x":335.27,"y":7566.14,"v":-6.5},{"x":336.08,"y":7566.14,"v":-6.7},{"x":336.89,"y":7566.14,"v":-6.6},{"x":337.70,"y":7566.14,"v":-6.5},{"x":338.52,"y":7566.14,"v":-6.5},{"x":339.33,"y":7566.14,"v":-6.6},{"x":340.14,"y":7566.14,"v":-6.7},{"x":340.95,"y":7566.14,"v":-6.5},{"x":341.76,"y":7566.14,"v":-6.6},{"x":342.57,"y":7566.14,"v":-6.7},{"x":343.38,"y":7566.14,"v":-6.6},{"x":344.19,"y":7566.14,"v":-6.5},{"x":345.00,"y":7566.14,"v":-6.3},{"x":345.81,"y":7566.14,"v":-6.2},{"x":346.63,"y":7566.14,"v":-6.2},{"x":347.44,"y":7566.14,"v":-6.2},{"x":348.25,"y":7566.14,"v":-6.1},{"x":349.06,"y":7566.14,"v":-6.0},{"x":349.87,"y":7566.14,"v":-6.0},
{"x":331.22,"y":7565.33,"v":-6.6},{"x":332.03,"y":7565.33,"v":-6.9},{"x":332.84,"y":7565.33,"v":-7.0},{"x":333.65,"y":7565.33,"v":-6.9},{"x":334.46,"y":7565.33,"v":-6.7},{"x":335.27,"y":7565.33,"v":-6.6},{"x":336.08,"y":7565.33,"v":-6.6},{"x":336.89,"y":7565.33,"v":-6.6},{"x":337.70,"y":7565.33,"v":-6.7},{"x":338.52,"y":7565.33,"v":-6.8},{"x":339.33,"y":7565.33,"v":-6.8},{"x":340.14,"y":7565.33,"v":-6.8},{"x":340.95,"y":7565.33,"v":-6.6},{"x":341.76,"y":7565.33,"v":-6.8},{"x":342.57,"y":7565.33,"v":-7.0},{"x":343.38,"y":7565.33,"v":-6.8},{"x":344.19,"y":7565.33,"v":-6.6},{"x":345.00,"y":7565.33,"v":-6.4},{"x":345.81,"y":7565.33,"v":-6.3},{"x":346.63,"y":7565.33,"v":-6.3},{"x":347.44,"y":7565.33,"v":-6.2},{"x":348.25,"y":7565.33,"v":-6.2},{"x":349.06,"y":7565.33,"v":-6.2},
{"x":332.03,"y":7564.52,"v":-7.1},{"x":332.84,"y":7564.52,"v":-7.1},{"x":333.65,"y":7564.52,"v":-7.1},{"x":334.46,"y":7564.52,"v":-6.9},{"x":335.27,"y":7564.52,"v":-6.7},{"x":336.08,"y":7564.52,"v":-6.6},{"x":336.89,"y":7564.52,"v":-6.6},{"x":337.70,"y":7564.52,"v":-6.7},{"x":338.52,"y":7564.52,"v":-6.8},{"x":339.33,"y":7564.52,"v":-6.8},{"x":340.14,"y":7564.52,"v":-6.8},{"x":340.95,"y":7564.52,"v":-6.7},{"x":341.76,"y":7564.52,"v":-7.0},{"x":342.57,"y":7564.52,"v":-7.1},{"x":343.38,"y":7564.52,"v":-6.9},{"x":344.19,"y":7564.52,"v":-6.6},{"x":345.00,"y":7564.52,"v":-6.5},{"x":345.81,"y":7564.52,"v":-6.4},{"x":346.63,"y":7564.52,"v":-6.4},{"x":347.44,"y":7564.52,"v":-6.4},{"x":348.25,"y":7564.52,"v":-6.4},
{"x":332.84,"y":7563.71,"v":-6.1},{"x":333.65,"y":7563.71,"v":-6.6},{"x":334.46,"y":7563.71,"v":-7.0},{"x":335.27,"y":7563.71,"v":-7.0},{"x":336.08,"y":7563.71,"v":-6.3},{"x":336.89,"y":7563.71,"v":-6.0},{"x":337.70,"y":7563.71,"v":-6.0},{"x":338.52,"y":7563.71,"v":-6.1},{"x":339.33,"y":7563.71,"v":-6.3},{"x":340.14,"y":7563.71,"v":-6.4},{"x":340.95,"y":7563.71,"v":-6.6},{"x":341.76,"y":7563.71,"v":-7.1},{"x":342.57,"y":7563.71,"v":-7.1},{"x":343.38,"y":7563.71,"v":-6.9},{"x":344.19,"y":7563.71,"v":-6.6},{"x":345.00,"y":7563.71,"v":-6.5},{"x":345.81,"y":7563.71,"v":-6.5},{"x":346.63,"y":7563.71,"v":-6.6},{"x":347.44,"y":7563.71,"v":-6.7},
{"x":334.46,"y":7562.90,"v":-7.0},{"x":335.27,"y":7562.90,"v":-7.0},{"x":336.08,"y":7562.90,"v":-5.8},{"x":336.89,"y":7562.90,"v":-5.7},{"x":337.70,"y":7562.90,"v":-5.8},{"x":338.52,"y":7562.90,"v":-5.6},{"x":339.33,"y":7562.90,"v":-5.8},{"x":340.14,"y":7562.90,"v":-6.0},{"x":340.95,"y":7562.90,"v":-6.3},{"x":341.76,"y":7562.90,"v":-6.8},{"x":342.57,"y":7562.90,"v":-6.9},{"x":343.38,"y":7562.90,"v":-6.8},{"x":344.19,"y":7562.90,"v":-6.7},{"x":345.00,"y":7562.90,"v":-6.6},{"x":345.81,"y":7562.90,"v":-6.6},
{"x":335.27,"y":7562.10,"v":-6.3},{"x":336.08,"y":7562.10,"v":-6.0},{"x":336.89,"y":7562.10,"v":-5.6},{"x":337.70,"y":7562.10,"v":-5.5},{"x":338.52,"y":7562.10,"v":-5.4},{"x":339.33,"y":7562.10,"v":-5.3},{"x":340.14,"y":7562.10,"v":-5.5},{"x":340.95,"y":7562.10,"v":-5.8},{"x":341.76,"y":7562.10,"v":-6.3},{"x":342.57,"y":7562.10,"v":-6.7},{"x":343.38,"y":7562.10,"v":-6.7},{"x":344.19,"y":7562.10,"v":-6.7},{"x":345.00,"y":7562.10,"v":-6.4},
{"x":336.08,"y":7561.29,"v":-5.9},{"x":336.89,"y":7561.29,"v":-5.6},{"x":337.70,"y":7561.29,"v":-5.4},{"x":338.52,"y":7561.29,"v":-5.3},{"x":339.33,"y":7561.29,"v":-5.1},{"x":340.14,"y":7561.29,"v":-5.2},{"x":340.95,"y":7561.29,"v":-5.4},{"x":341.76,"y":7561.29,"v":-5.8},{"x":342.57,"y":7561.29,"v":-6.0},{"x":343.38,"y":7561.29,"v":-6.0},{"x":344.19,"y":7561.29,"v":-6.0}
],"fine":[
{"x":331.7,"y":7582.5,"v":-5.8},{"x":332.1,"y":7582.5,"v":-5.9},{"x":332.5,"y":7582.5,"v":-5.9},{"x":332.9,"y":7582.5,"v":-5.5},{"x":333.3,"y":7582.5,"v":-5.0},{"x":333.7,"y":7582.5,"v":-5.5},{"x":334.1,"y":7582.5,"v":-5.9},
{"x":331.7,"y":7582.1,"v":-5.9},{"x":332.1,"y":7582.1,"v":-5.7},{"x":332.5,"y":7582.1,"v":-5.3},{"x":332.9,"y":7582.1,"v":-4.6},{"x":333.3,"y":7582.1,"v":-4.0},{"x":333.7,"y":7582.1,"v":-4.6},{"x":334.1,"y":7582.1,"v":-5.4},
{"x":331.7,"y":7581.7,"v":-5.8},{"x":332.1,"y":7581.7,"v":-5.3},{"x":332.5,"y":7581.7,"v":-4.7},{"x":332.9,"y":7581.7,"v":-3.7},{"x":333.3,"y":7581.7,"v":-3.2},{"x":333.7,"y":7581.7,"v":-3.7},{"x":334.1,"y":7581.7,"v":-5.0},
{"x":331.7,"y":7581.3,"v":-5.6},{"x":332.1,"y":7581.3,"v":-5.0},{"x":332.5,"y":7581.3,"v":-4.3},{"x":332.9,"y":7581.3,"v":-3.5},{"x":333.3,"y":7581.3,"v":-2.7},{"x":333.7,"y":7581.3,"v":-3.6},{"x":334.1,"y":7581.3,"v":-5.0},
{"x":331.7,"y":7580.9,"v":-5.3},{"x":332.1,"y":7580.9,"v":-4.6},{"x":332.5,"y":7580.9,"v":-3.7},{"x":332.9,"y":7580.9,"v":-3.6},{"x":333.3,"y":7580.9,"v":-3.4},{"x":333.7,"y":7580.9,"v":-4.2},{"x":334.1,"y":7580.9,"v":-5.3},
{"x":331.7,"y":7580.5,"v":-5.1},{"x":332.1,"y":7580.5,"v":-4.2},{"x":332.5,"y":7580.5,"v":-3.6},{"x":332.9,"y":7580.5,"v":-3.8},{"x":333.3,"y":7580.5,"v":-4.4},{"x":333.7,"y":7580.5,"v":-5.2},{"x":334.1,"y":7580.5,"v":-5.7},
{"x":331.7,"y":7580.1,"v":-5.0},{"x":332.1,"y":7580.1,"v":-4.1},{"x":332.5,"y":7580.1,"v":-3.5},{"x":332.9,"y":7580.1,"v":-4.2},{"x":333.3,"y":7580.1,"v":-5.0},{"x":333.7,"y":7580.1,"v":-5.7},{"x":334.1,"y":7580.1,"v":-6.0},
{"x":331.7,"y":7579.7,"v":-5.1},{"x":332.1,"y":7579.7,"v":-4.3},{"x":332.5,"y":7579.7,"v":-3.7},{"x":332.9,"y":7579.7,"v":-4.4},{"x":333.3,"y":7579.7,"v":-5.2},{"x":333.7,"y":7579.7,"v":-5.8},{"x":334.1,"y":7579.7,"v":-6.0},
{"x":331.7,"y":7579.3,"v":-5.4},{"x":332.1,"y":7579.3,"v":-4.8},{"x":332.5,"y":7579.3,"v":-4.5},{"x":332.9,"y":7579.3,"v":-5.0},{"x":333.3,"y":7579.3,"v":-5.3},{"x":333.7,"y":7579.3,"v":-5.8},{"x":334.1,"y":7579.3,"v":-6.0},
{"x":331.7,"y":7578.9,"v":-5.8},{"x":332.1,"y":7578.9,"v":-5.4},{"x":332.5,"y":7578.9,"v":-5.2},{"x":332.9,"y":7578.9,"v":-5.2},{"x":333.3,"y":7578.9,"v":-4.9},{"x":333.7,"y":7578.9,"v":-5.3},{"x":334.1,"y":7578.9,"v":-5.9},
{"x":331.7,"y":7578.5,"v":-6.0},{"x":332.1,"y":7578.5,"v":-5.7},{"x":332.5,"y":7578.5,"v":-5.3},{"x":332.9,"y":7578.5,"v":-4.7},{"x":333.3,"y":7578.5,"v":-4.2},{"x":333.7,"y":7578.5,"v":-4.8},{"x":334.1,"y":7578.5,"v":-5.5},
{"x":331.7,"y":7578.1,"v":-6.1},{"x":332.1,"y":7578.1,"v":-5.9},{"x":332.5,"y":7578.1,"v":-5.4},{"x":332.9,"y":7578.1,"v":-4.2},{"x":333.3,"y":7578.1,"v":-3.5},{"x":333.7,"y":7578.1,"v":-4.2},{"x":334.1,"y":7578.1,"v":-5.3},
{"x":331.7,"y":7577.7,"v":-6.1},{"x":332.1,"y":7577.7,"v":-6.0},{"x":332.5,"y":7577.7,"v":-5.5},{"x":332.9,"y":7577.7,"v":-4.1},{"x":333.3,"y":7577.7,"v":-3.4},{"x":333.7,"y":7577.7,"v":-4.1},{"x":334.1,"y":7577.7,"v":-5.2},
{"x":331.7,"y":7577.3,"v":-6.1},{"x":332.1,"y":7577.3,"v":-5.9},{"x":332.5,"y":7577.3,"v":-5.5},{"x":332.9,"y":7577.3,"v":-4.2},{"x":333.3,"y":7577.3,"v":-3.5},{"x":333.7,"y":7577.3,"v":-4.2},{"x":334.1,"y":7577.3,"v":-5.3},
{"x":331.7,"y":7576.9,"v":-6.0},{"x":332.1,"y":7576.9,"v":-5.7},{"x":332.5,"y":7576.9,"v":-5.4},{"x":332.9,"y":7576.9,"v":-4.7},{"x":333.3,"y":7576.9,"v":-4.2},{"x":333.7,"y":7576.9,"v":-4.8},{"x":334.1,"y":7576.9,"v":-5.6},
{"x":331.7,"y":7576.5,"v":-5.9},{"x":332.1,"y":7576.5,"v":-5.4},{"x":332.5,"y":7576.5,"v":-5.3},{"x":332.9,"y":7576.5,"v":-5.5},{"x":333.3,"y":7576.5,"v":-5.3},{"x":333.7,"y":7576.5,"v":-5.7},{"x":334.1,"y":7576.5,"v":-6.0},
{"x":331.7,"y":7576.1,"v":-5.8},{"x":332.1,"y":7576.1,"v":-5.3},{"x":332.5,"y":7576.1,"v":-5.2},{"x":332.9,"y":7576.1,"v":-5.8},{"x":333.3,"y":7576.1,"v":-5.9},{"x":333.7,"y":7576.1,"v":-6.0},{"x":334.1,"y":7576.1,"v":-6.1},
{"x":341.34,"y":7570.52,"v":-6.3},{"x":341.74,"y":7570.52,"v":-6.0},{"x":342.14,"y":7570.52,"v":-5.9},{"x":342.54,"y":7570.52,"v":-6.1},{"x":342.93,"y":7570.52,"v":-6.4},{"x":343.33,"y":7570.52,"v":-6.2},{"x":343.73,"y":7570.52,"v":-6.0},{"x":344.13,"y":7570.52,"v":-6.2},{"x":344.52,"y":7570.52,"v":-6.4},
{"x":341.34,"y":7570.12,"v":-6.1},{"x":341.74,"y":7570.12,"v":-5.7},{"x":342.14,"y":7570.12,"v":-5.4},{"x":342.54,"y":7570.12,"v":-5.8},{"x":342.93,"y":7570.12,"v":-6.2},{"x":343.33,"y":7570.12,"v":-6.0},{"x":343.73,"y":7570.12,"v":-5.8},{"x":344.13,"y":7570.12,"v":-6.0},{"x":344.52,"y":7570.12,"v":-6.3},
{"x":341.34,"y":7569.73,"v":-6.0},{"x":341.74,"y":7569.73,"v":-5.4},{"x":342.14,"y":7569.73,"v":-5.1},{"x":342.54,"y":7569.73,"v":-5.5},{"x":342.93,"y":7569.73,"v":-6.1},{"x":343.33,"y":7569.73,"v":-5.9},{"x":343.73,"y":7569.73,"v":-5.7},{"x":344.13,"y":7569.73,"v":-5.9},{"x":344.52,"y":7569.73,"v":-6.3},
{"x":341.34,"y":7569.33,"v":-6.0},{"x":341.74,"y":7569.33,"v":-5.3},{"x":342.14,"y":7569.33,"v":-5.0},{"x":342.54,"y":7569.33,"v":-5.4},{"x":342.93,"y":7569.33,"v":-6.1},{"x":343.33,"y":7569.33,"v":-5.9},{"x":343.73,"y":7569.33,"v":-5.6},{"x":344.13,"y":7569.33,"v":-5.9},{"x":344.52,"y":7569.33,"v":-6.3},
{"x":341.34,"y":7568.93,"v":-6.0},{"x":341.74,"y":7568.93,"v":-5.4},{"x":342.14,"y":7568.93,"v":-5.1},{"x":342.54,"y":7568.93,"v":-5.5},{"x":342.93,"y":7568.93,"v":-6.1},{"x":343.33,"y":7568.93,"v":-5.9},{"x":343.73,"y":7568.93,"v":-5.7},{"x":344.13,"y":7568.93,"v":-5.9},{"x":344.52,"y":7568.93,"v":-6.3},
{"x":341.34,"y":7568.53,"v":-6.1},{"x":341.74,"y":7568.53,"v":-5.7},{"x":342.14,"y":7568.53,"v":-5.5},{"x":342.54,"y":7568.53,"v":-5.8},{"x":342.93,"y":7568.53,"v":-6.2},{"x":343.33,"y":7568.53,"v":-6.0},{"x":343.73,"y":7568.53,"v":-5.8},{"x":344.13,"y":7568.53,"v":-6.0},{"x":344.52,"y":7568.53,"v":-6.3},
{"x":341.34,"y":7568.13,"v":-6.3},{"x":341.74,"y":7568.13,"v":-6.1},{"x":342.14,"y":7568.13,"v":-6.0},{"x":342.54,"y":7568.13,"v":-6.1},{"x":342.93,"y":7568.13,"v":-6.4},{"x":343.33,"y":7568.13,"v":-6.3},{"x":343.73,"y":7568.13,"v":-6.1},{"x":344.13,"y":7568.13,"v":-6.2},{"x":344.52,"y":7568.13,"v":-6.4}
],"bands":[
{"v":-7.43,"v2":-7.38},{"v":-7.38,"v2":-7.33},{"v":-7.33,"v2":-7.28},{"v":-7.28,"v2":-7.23},{"v":-7.23,"v2":-7.18},{"v":-7.18,"v2":-7.13},{"v":-7.13,"v2":-7.08},{"v":-7.08,"v2":-7.03},{"v":-7.03,"v2":-6.98},{"v":-6.98,"v2":-6.93},{"v":-6.93,"v2":-6.88},{"v":-6.88,"v2":-6.83},{"v":-6.83,"v2":-6.78},{"v":-6.78,"v2":-6.73},{"v":-6.73,"v2":-6.68},{"v":-6.68,"v2":-6.63},{"v":-6.63,"v2":-6.58},{"v":-6.58,"v2":-6.53},{"v":-6.53,"v2":-6.48},{"v":-6.48,"v2":-6.43},{"v":-6.43,"v2":-6.38},{"v":-6.38,"v2":-6.33},{"v":-6.33,"v2":-6.28},{"v":-6.28,"v2":-6.23},{"v":-6.23,"v2":-6.18},{"v":-6.18,"v2":-6.13},{"v":-6.13,"v2":-6.08},{"v":-6.08,"v2":-6.03},{"v":-6.03,"v2":-5.98},{"v":-5.98,"v2":-5.93},{"v":-5.93,"v2":-5.88},{"v":-5.88,"v2":-5.83},{"v":-5.83,"v2":-5.78},{"v":-5.78,"v2":-5.73},{"v":-5.73,"v2":-5.68},{"v":-5.68,"v2":-5.63},{"v":-5.63,"v2":-5.58},{"v":-5.58,"v2":-5.53},{"v":-5.53,"v2":-5.48},{"v":-5.48,"v2":-5.43},{"v":-5.43,"v2":-5.38},{"v":-5.38,"v2":-5.33},{"v":-5.33,"v2":-5.28},{"v":-5.28,"v2":-5.23},{"v":-5.23,"v2":-5.18},{"v":-5.18,"v2":-5.13},{"v":-5.13,"v2":-5.08},{"v":-5.08,"v2":-5.03},{"v":-5.03,"v2":-4.98},{"v":-4.98,"v2":-4.93},{"v":-4.93,"v2":-4.88},{"v":-4.88,"v2":-4.83},{"v":-4.83,"v2":-4.78},{"v":-4.78,"v2":-4.73},{"v":-4.73,"v2":-4.68},{"v":-4.68,"v2":-4.63},{"v":-4.63,"v2":-4.58},{"v":-4.58,"v2":-4.53},{"v":-4.53,"v2":-4.48},{"v":-4.48,"v2":-4.43},{"v":-4.43,"v2":-4.38},{"v":-4.38,"v2":-4.33},{"v":-4.33,"v2":-4.28},{"v":-4.28,"v2":-4.23},{"v":-4.23,"v2":-4.18},{"v":-4.18,"v2":-4.13},{"v":-4.13,"v2":-4.08},{"v":-4.08,"v2":-4.03},{"v":-4.03,"v2":-3.98},{"v":-3.98,"v2":-3.93},{"v":-3.93,"v2":-3.88},{"v":-3.88,"v2":-3.83},{"v":-3.83,"v2":-3.78},{"v":-3.78,"v2":-3.73},{"v":-3.73,"v2":-3.68},{"v":-3.68,"v2":-3.63},{"v":-3.63,"v2":-3.58},{"v":-3.58,"v2":-3.53},{"v":-3.53,"v2":-3.48},{"v":-3.48,"v2":-3.43},{"v":-3.43,"v2":-3.38},{"v":-3.38,"v2":-3.33},{"v":-3.33,"v2":-3.28},{"v":-3.28,"v2":-3.23},{"v":-3.23,"v2":-3.18},{"v":-3.18,"v2":-3.13},{"v":-3.13,"v2":-3.08},{"v":-3.08,"v2":-3.03},{"v":-3.03,"v2":-2.98},{"v":-2.98,"v2":-2.93},{"v":-2.93,"v2":-2.88},{"v":-2.88,"v2":-2.83},{"v":-2.83,"v2":-2.78},{"v":-2.78,"v2":-2.73},{"v":-2.73,"v2":-2.68},{"v":-2.68,"v2":-2.63},{"v":-2.63,"v2":-2.58},{"v":-2.58,"v2":-2.53},{"v":-2.53,"v2":-2.48},{"v":-2.48,"v2":-2.45}
],"frame":[{"v":-7.43,"v2":-2.45}]},
"hconcat":[
{"width":807,"height":802,"view":{"fill":"black","stroke":null},"resolve":{"axis":{"x":"independent","y":"independent"}},"layer":[
{"data":{"name":"cells"},"mark":{"type":"rect","width":8.3,"height":8.2},"encoding":{
"x":{"field":"x","type":"quantitative","scale":{"domain":[300,380.2],"nice":false,"zero":false},"axis":{"orient":"bottom","values":[310,320,330,340,350,360,370,380],"format":"d","grid":false,"domain":false,"tickColor":"#555555","tickSize":9,"labelFontSize":18,"labelColor":"#111111","labelPadding":3,"title":"km","titleFontSize":20,"titleFontWeight":"normal","titleColor":"#111111","titleX":867,"titleY":21,"titleAlign":"center","titleBaseline":"middle"}},
"y":{"field":"y","type":"quantitative","scale":{"domain":[7540,7620],"nice":false,"zero":false},"axis":{"orient":"left","values":[7540,7550,7560,7570,7580,7590,7600,7610,7620],"format":"d","grid":false,"domain":false,"tickColor":"#888888","tickSize":9,"labelFontSize":18,"labelColor":"#111111","labelPadding":2,"title":"km","titleFontSize":20,"titleFontWeight":"normal","titleColor":"#111111","titleAngle":0,"titleX":-25,"titleY":-33,"titleAlign":"center","titleBaseline":"middle"}},
"color":{"field":"v","type":"quantitative","legend":null,"scale":{"domain":[-7.43,-6.88,-6.14,-5.0,-4.5,-4.0,-3.47,-2.72],"range":["#000000","#0000ff","#00ffff","#00a000","#ffff00","#ff8000","#ff0000","#ffffff"],"interpolate":"rgb","clamp":true}}}},
{"data":{"name":"fine"},"mark":{"type":"rect","width":4.2,"height":4.2},"encoding":{
"x":{"field":"x","type":"quantitative","scale":{"domain":[300,380.2],"nice":false,"zero":false},"axis":{"orient":"top","values":[310,320,330,340,350,360,370,380],"labels":false,"grid":false,"domain":false,"tickColor":"#888888","tickSize":10,"title":null}},
"y":{"field":"y","type":"quantitative","scale":{"domain":[7540,7620],"nice":false,"zero":false},"axis":{"orient":"right","values":[7540,7550,7560,7570,7580,7590,7600,7610,7620],"labels":false,"grid":false,"domain":false,"tickColor":"#888888","tickSize":9,"title":null}},
"color":{"field":"v","type":"quantitative","legend":null,"scale":{"domain":[-7.43,-6.88,-6.14,-5.0,-4.5,-4.0,-3.47,-2.72],"range":["#000000","#0000ff","#00ffff","#00a000","#ffff00","#ff8000","#ff0000","#ffffff"],"interpolate":"rgb","clamp":true}}}}
]},
{"width":34,"height":669,"layer":[
{"data":{"name":"bands"},"mark":{"type":"rect","strokeWidth":0.5},"encoding":{
"y":{"field":"v","type":"quantitative","scale":{"domain":[-7.428,-1.205],"nice":false,"zero":false},"axis":{"orient":"right","values":[-7.4,-7.2,-7.0,-6.8,-6.6,-6.4,-6.2,-6.0,-5.8,-5.6,-5.4,-5.2,-5.0,-4.8,-4.6,-4.4,-4.2,-4.0,-3.8,-3.6,-3.4,-3.2,-3.0,-2.8,-2.6],"tickCount":30,"labelExpr":"'-'+format(abs(datum.value),'.1f')+'E+011'","labelOverlap":false,"labelBound":false,"labelFlush":false,"grid":false,"domain":false,"tickColor":"#666666","tickSize":9,"labelFontSize":18,"labelColor":"#111111","labelPadding":4,"title":"[N]","titleFontSize":24,"titleFontWeight":"normal","titleColor":"#111111","titleAngle":0,"titleX":-19,"titleY":115,"titleAlign":"center","titleBaseline":"middle"}},
"y2":{"field":"v2"},
"color":{"field":"v","type":"quantitative","legend":null,"scale":{"domain":[-7.43,-6.88,-6.14,-5.0,-4.5,-4.0,-3.47,-2.72],"range":["#000000","#0000ff","#00ffff","#00a000","#ffff00","#ff8000","#ff0000","#ffffff"],"interpolate":"rgb","clamp":true}},
"stroke":{"field":"v","type":"quantitative","legend":null,"scale":{"domain":[-7.43,-6.88,-6.14,-5.0,-4.5,-4.0,-3.47,-2.72],"range":["#000000","#0000ff","#00ffff","#00a000","#ffff00","#ff8000","#ff0000","#ffffff"],"interpolate":"rgb","clamp":true}}}},
{"data":{"name":"frame"},"mark":{"type":"rect","fill":null,"stroke":"#333333","strokeWidth":1},"encoding":{
"y":{"field":"v","type":"quantitative","scale":{"domain":[-7.428,-1.205],"nice":false,"zero":false}},"y2":{"field":"v2"}}}
]}
]}
